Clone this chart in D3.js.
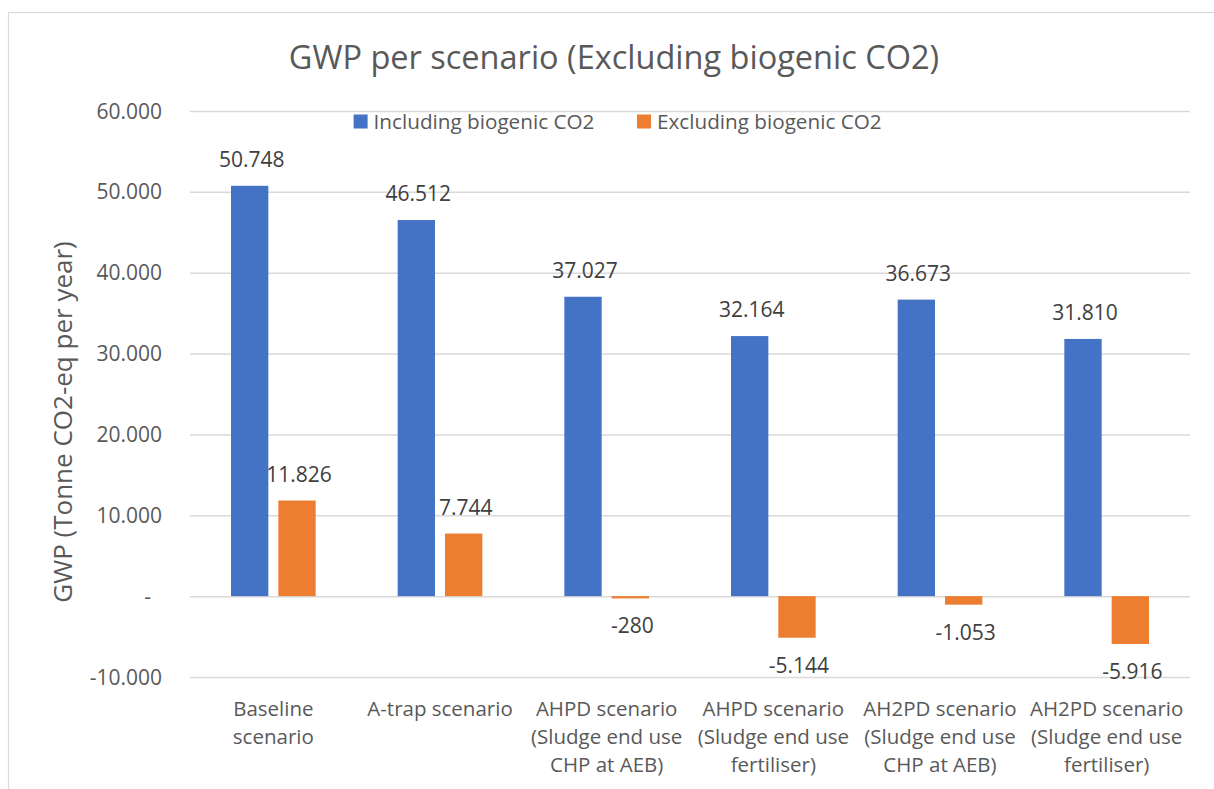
<!DOCTYPE html>
<html><head><meta charset="utf-8">
<script src="https://cdn.jsdelivr.net/npm/d3@7"></script>
<style>body{margin:0;background:#fff}svg{display:block;font-family:"Open Sans",sans-serif}</style>
</head><body>
<svg id="chart" width="1214" height="789"></svg>
<script>
const title = "GWP per scenario (Excluding biogenic CO2)";
const yTitle = "GWP (Tonne CO2-eq per year)";
const categories = ["Baseline scenario","A-trap scenario","AHPD scenario (Sludge end use CHP at AEB)","AHPD scenario (Sludge end use fertiliser)","AH2PD scenario (Sludge end use CHP at AEB)","AH2PD scenario (Sludge end use fertiliser)"];
const categoryLines = [["Baseline","scenario"],["A-trap scenario"],["AHPD scenario","(Sludge end use","CHP at AEB)"],["AHPD scenario","(Sludge end use","fertiliser)"],["AH2PD scenario","(Sludge end use","CHP at AEB)"],["AH2PD scenario","(Sludge end use","fertiliser)"]];
const seriesNames = ["Including biogenic CO2","Excluding biogenic CO2"];
const including = [50748, 46512, 37027, 32164, 36673, 31810];
const excluding = [11826, 7744, -280, -5144, -1053, -5916];
const yTicks = [-10000, 0, 10000, 20000, 30000, 40000, 50000, 60000];
const colors = ["#4472C4", "#ED7D31"];

const seriesValues = [including, excluding];
const locale = d3.formatLocale({decimal: ",", thousands: ".", grouping: [3], currency: ["", ""], minus: "-"});
const fmt = v => v === 0 ? "-" : locale.format(",")(v);

const svg = d3.select("#chart");
const axisColor = "#595959";

// chart border
svg.append("rect").attr("x", 8.5).attr("y", 12.5).attr("width", 1400).attr("height", 1000)
  .attr("fill", "#fff").attr("stroke", "#d9d9d9").attr("stroke-width", 1.2);

const y = d3.scaleLinear().domain([-10000, 60000]).range([677, 111]);
const x0 = d3.scaleBand().domain(categories).range([190, 1190]).paddingInner(0.492).paddingOuter(0.246);
const x1 = d3.scaleBand().domain(seriesNames).range([0, x0.bandwidth()]).paddingInner(0.211);

// gridlines + tick labels
const yAxis = d3.axisLeft(y).tickValues(yTicks).tickSize(-1000).tickFormat(fmt).tickPadding(28);
const gy = svg.append("g").attr("transform", "translate(190,0)").call(yAxis);
gy.select(".domain").remove();
gy.selectAll(".tick line").attr("stroke", "#d9d9d9").attr("stroke-width", 1.5);
gy.selectAll(".tick text").attr("fill", axisColor).style("font-size", "21px")
  .attr("font-family", "Open Sans").attr("dy", "0.34em")
  .attr("x", d => d === 0 ? -39 : -28);

// bars
const groups = svg.append("g").selectAll("g").data(categories).join("g")
  .attr("transform", d => `translate(${x0(d)},0)`);
seriesNames.forEach((s, si) => {
  groups.append("rect")
    .attr("x", x1(s))
    .attr("width", x1.bandwidth())
    .attr("y", (d, i) => y(Math.max(0, seriesValues[si][i])))
    .attr("height", (d, i) => Math.abs(y(seriesValues[si][i]) - y(0)))
    .attr("fill", colors[si]);
  groups.append("text")
    .attr("x", x1(s) + x1.bandwidth() / 2 + 2)
    .attr("y", (d, i) => {
      const v = seriesValues[si][i];
      return v >= 0 ? y(v) - 19 : y(v) + 35;
    })
    .attr("text-anchor", "middle")
    .attr("fill", "#404040")
    .style("font-size", "21px")
    .text((d, i) => fmt(seriesValues[si][i]));
});

// category labels
const cl = svg.append("g").selectAll("text").data(categories).join("text")
  .attr("text-anchor", "middle")
  .attr("fill", axisColor)
  .style("font-size", "20.5px")
  .attr("x", d => x0(d) + x0.bandwidth() / 2)
  .attr("y", 716);
cl.each(function(d, i) {
  const t = d3.select(this);
  categoryLines[i].forEach((line, li) => {
    t.append("tspan").attr("x", x0(d) + x0.bandwidth() / 2).attr("y", 716 + li * 28).text(line);
  });
});

// title
svg.append("text").attr("x", 614).attr("y", 69).attr("text-anchor", "middle")
  .attr("fill", axisColor).style("font-size", "32.5px").text(title);

// y title
svg.append("text").attr("transform", "translate(72,422) rotate(-90)").attr("text-anchor", "middle")
  .attr("fill", axisColor).style("font-size", "26px").text(yTitle);

// legend
const legendX = [353.6, 637];
seriesNames.forEach((s, i) => {
  svg.append("rect").attr("x", legendX[i]).attr("y", 114.5).attr("width", 14).attr("height", 14).attr("fill", colors[i]);
  svg.append("text").attr("x", legendX[i] + 20).attr("y", 128.5).attr("fill", axisColor)
    .style("font-size", "20.7px").text(s);
});
</script>
</body></html>
